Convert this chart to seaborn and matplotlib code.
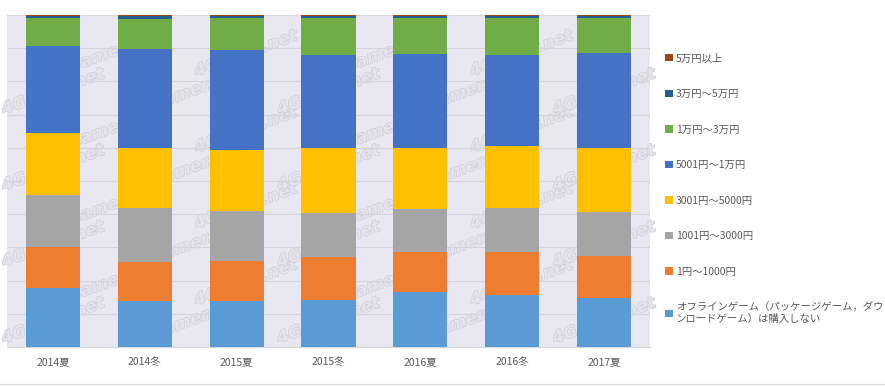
import numpy as np
import pandas as pd
import matplotlib
matplotlib.use("Agg")
import matplotlib.pyplot as plt
import matplotlib.patheffects as pe
from matplotlib.patches import Patch
from matplotlib.lines import Line2D
import seaborn as sns

periods = ['2014夏', '2014冬', '2015夏', '2015冬', '2016夏', '2016冬', '2017夏']

# series, bottom to top (%)
offline   = [17.7, 13.9, 13.9, 14.2, 16.7, 15.7, 14.8]
yen_1000  = [12.4, 11.8, 12.1, 12.9, 11.9, 13.0, 12.7]
yen_3000  = [15.7, 16.2, 15.0, 13.3, 13.0, 13.2, 13.2]
yen_5000  = [18.7, 18.1, 18.4, 19.6, 18.4, 18.7, 19.3]
yen_10k   = [26.3, 29.8, 30.1, 28.0, 28.3, 27.4, 28.6]
yen_30k   = [8.4, 9.0, 9.7, 11.2, 10.9, 11.2, 10.6]
yen_50k   = [0.6, 0.9, 0.6, 0.6, 0.6, 0.6, 0.6]
yen_over  = [0.2, 0.3, 0.2, 0.2, 0.2, 0.2, 0.2]

labels = [
    'オフラインゲーム（パッケージゲーム，ダウ\nンロードゲーム）は購入しない',
    '1円～1000円',
    '1001円～3000円',
    '3001円～5000円',
    '5001円～1万円',
    '1万円～3万円',
    '3万円～5万円',
    '5万円以上',
]
colors = ['#5B9BD5', '#ED7D31', '#A5A5A5', '#FFC000', '#4472C4', '#70AD47', '#255E91', '#9E480E']
series = [offline, yen_1000, yen_3000, yen_5000, yen_10k, yen_30k, yen_50k, yen_over]

df = pd.DataFrame({lab: vals for lab, vals in zip(labels, series)}, index=periods)
cum = df.cumsum(axis=1)

sns.set_theme(style="white")
plt.rcParams['font.family'] = ['Noto Sans CJK JP', 'DejaVu Sans']

fig = plt.figure(figsize=(8.85, 3.87), dpi=100)
ax = fig.add_axes([7 / 885, 40 / 387, 643 / 885, 332 / 387])
ax.set_facecolor('#E9E8F2')

# watermark behind bars (kept inside the plot area)
for j, yy in enumerate(np.arange(8, 96, 11.5)):
    off = 0.6 * (j % 2)
    for xx in np.arange(0.0, 6.1, 1.5):
        if xx + off > 6.0:
            continue
        t = ax.text(xx + off, yy, '4Gamer.net', fontsize=12, fontweight='bold',
                    fontstyle='italic', color='#E5E4EC', rotation=20,
                    ha='center', va='center', zorder=0.5,
                    family='DejaVu Sans')
        t.set_path_effects([pe.withStroke(linewidth=1.0, foreground='#D0CFD7')])

# stacked bars: draw cumulative totals from the top series down
for lab, col in zip(labels[::-1], colors[::-1]):
    sns.barplot(x=cum.index, y=cum[lab].values, color=col, saturation=1,
                width=0.59, ax=ax, zorder=3, linewidth=0, edgecolor='none')

ax.set_xlim(-0.5, 6.5)
ax.set_ylim(0, 100)
ax.set_yticks(np.arange(0, 101, 10))
ax.set_yticklabels([])
ax.yaxis.grid(True, color='#D6D5DD', linewidth=0.8, zorder=1)
ax.set_axisbelow(True)
ax.set_xlabel('')
ax.set_ylabel('')
ax.tick_params(axis='both', length=0)
ax.tick_params(axis='x', pad=7, labelsize=7.5, labelcolor='#595959')
for s in ['top', 'right', 'left']:
    ax.spines[s].set_visible(False)
ax.spines['bottom'].set_color('#D9D9D9')
ax.spines['bottom'].set_linewidth(0.8)

handles = [Patch(facecolor=c, edgecolor='none') for c in colors[::-1]]
leg = fig.legend(handles, labels[::-1], loc='upper left',
                 bbox_to_anchor=(656 / 885, 1 - 44 / 387), frameon=False,
                 fontsize=7.5, labelspacing=2.45, handlelength=0.7,
                 handleheight=0.7, handletextpad=0.3, labelcolor='#595959')

fig.add_artist(Line2D([0, 1], [3 / 387, 3 / 387], color='#D9D9D9', linewidth=1))

fig.savefig('out.png', dpi=100)
